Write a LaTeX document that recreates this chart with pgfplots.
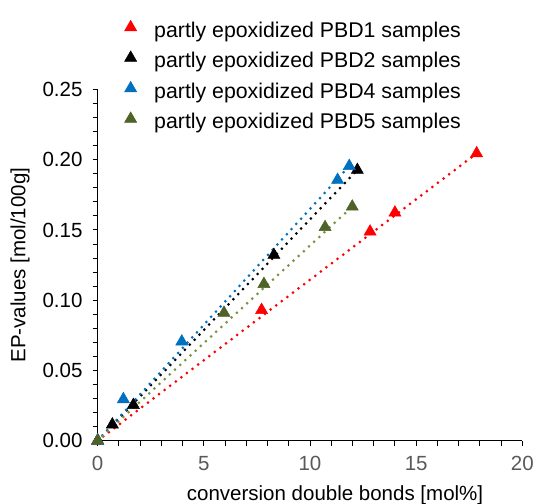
\documentclass[border=0pt]{standalone}
\usepackage{pgfplots}
\pgfplotsset{compat=1.18}
\usepackage{fontspec}
\setmainfont{Liberation Sans}
\definecolor{cred}{HTML}{FF0000}
\definecolor{cblue}{HTML}{0070C0}
\definecolor{cgreen}{HTML}{4F6228}
\definecolor{cgreenl}{HTML}{77933C}
\definecolor{tgray}{HTML}{595959}
\begin{document}
\begin{tikzpicture}
\begin{axis}[
  at={(0,0)}, anchor=south west,
  scale only axis, width=424.6bp, height=351.2bp,
  xmin=0, xmax=20, ymin=0, ymax=0.25,
  axis x line=bottom, axis y line=left,
  axis line style={-, line width=1bp, black},
  xtick={0,5,10,15,20}, ytick={0,0.05,0.1,0.15,0.2,0.25},
  minor x tick num=4, minor y tick num=4,
  tick align=outside, major tick length=5bp, minor tick length=5bp,
  every tick/.style={black, line width=1bp},
  font=\fontsize{20.5bp}{24bp}\selectfont,
  /pgf/number format/assume math mode=true,
  every tick label/.append style={inner sep=0pt},
  yticklabel style={/pgf/number format/fixed, /pgf/number format/fixed zerofill, /pgf/number format/precision=2, xshift=-10bp},
  xticklabel style={yshift=-10bp, text=tgray},
  xlabel={conversion double bonds [mol\%]},
  ylabel={EP-values [mol/100g]},
  xlabel style={at={(axis description cs:0.559,-0.1546)}, anchor=center},
  ylabel style={at={(axis description cs:-0.183,0.5)}, anchor=center},
  legend style={draw=none, fill=none, inner sep=0pt, at={(axis description cs:0.0629,1.1974)}, anchor=north west, row sep=8.5bp, column sep=17.5bp, nodes={inner sep=0pt, text height=15bp, text depth=5bp}, font=\fontsize{21.3bp}{24bp}\selectfont},
  legend cell align=left,
  legend image code/.code={\draw[#1, only marks] plot coordinates {(6bp,5bp)};},
  clip=false,
]
% trend lines
\addplot[cred, line width=3bp, dash pattern=on 0bp off 7bp, line cap=round, forget plot] coordinates {(0,0) (17.85,0.2045)};
\addplot[black, line width=3bp, dash pattern=on 0bp off 7bp, line cap=round, forget plot] coordinates {(0,0) (12.23,0.1927)};
\addplot[cblue, line width=3bp, dash pattern=on 0bp off 7bp, line cap=round, forget plot] coordinates {(0,0) (11.85,0.1955)};
\addplot[cgreenl, line width=3bp, dash pattern=on 0bp off 7bp, line cap=round, forget plot] coordinates {(0,0) (11.99,0.1666)};
% data
\addplot[only marks, mark=triangle*, mark size=7bp, mark options={fill=cred, draw=cred, line width=0.5bp}] coordinates {
(0,0) (7.72,0.093) (12.83,0.1488) (14.0,0.1623) (17.85,0.2045)};
\addlegendentry{partly epoxidized PBD1 samples}
\addplot[only marks, mark=triangle*, mark size=7bp, mark options={fill=black, draw=black, line width=0.5bp}] coordinates {
(0,0) (0.69,0.0115) (1.68,0.0254) (8.30,0.1322) (12.23,0.1927)};
\addlegendentry{partly epoxidized PBD2 samples}
\addplot[only marks, mark=triangle*, mark size=7bp, mark options={fill=cblue, draw=cblue, line width=0.5bp}] coordinates {
(0,0) (1.21,0.0295) (3.96,0.0705) (11.30,0.1856) (11.85,0.1955)};
\addlegendentry{partly epoxidized PBD4 samples}
\addplot[only marks, mark=triangle*, mark size=7bp, mark options={fill=cgreen, draw=cgreen, line width=0.5bp}] coordinates {
(0,0) (5.95,0.091) (7.83,0.1115) (10.71,0.152) (11.99,0.1666)};
\addlegendentry{partly epoxidized PBD5 samples}
\end{axis}
\pgfresetboundingbox
\path[use as bounding box] (-97.7bp,-63.3bp) rectangle (439.3bp,440.7bp);
\end{tikzpicture}
\end{document}
